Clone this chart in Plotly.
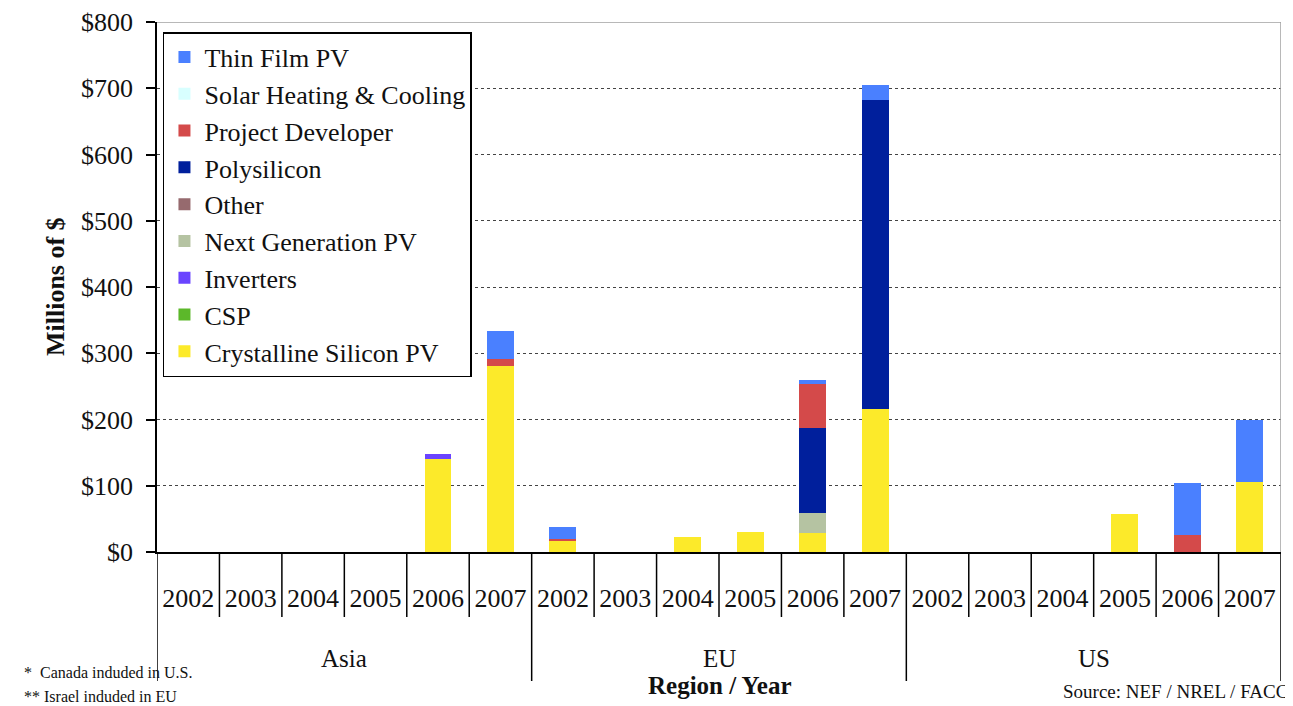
import plotly.graph_objects as go

# ---------------- data ----------------
regions = ["Asia", "EU", "US"]
years = ["2002", "2003", "2004", "2005", "2006", "2007"]
year_labels = years * 3

series_names = [
    "Crystalline Silicon PV", "CSP", "Inverters", "Next Generation PV", "Other",
    "Polysilicon", "Project Developer", "Solar Heating & Cooling", "Thin Film PV",
]
#                 ----------- Asia -----------   ------------ EU ------------   ------------ US ------------
crystalline_si = [0, 0, 0, 0, 140, 281,          17, 0, 22, 30, 28, 216,         0, 0, 0, 57, 0, 106]
csp            = [0, 0, 0, 0, 0, 0,              0, 0, 0, 0, 0, 0,               0, 0, 0, 0, 0, 0]
inverters      = [0, 0, 0, 0, 8, 0,              0, 0, 0, 0, 0, 0,               0, 0, 0, 0, 0, 0]
next_gen_pv    = [0, 0, 0, 0, 0, 0,              0, 0, 0, 0, 31, 0,              0, 0, 0, 0, 0, 0]
other          = [0, 0, 0, 0, 0, 0,              0, 0, 0, 0, 0, 0,               0, 0, 0, 0, 0, 0]
polysilicon    = [0, 0, 0, 0, 0, 0,              0, 0, 0, 0, 128, 467,           0, 0, 0, 0, 0, 0]
project_dev    = [0, 0, 0, 0, 0, 10,             2, 0, 0, 0, 66, 0,              0, 0, 0, 0, 26, 0]
solar_hc       = [0, 0, 0, 0, 0, 0,              0, 0, 0, 0, 0, 0,               0, 0, 0, 0, 0, 0]
thin_film_pv   = [0, 0, 0, 0, 0, 43,             19, 0, 0, 0, 6, 22,             0, 0, 0, 0, 78, 94]

series_values = [crystalline_si, csp, inverters, next_gen_pv, other,
                 polysilicon, project_dev, solar_hc, thin_film_pv]
series_colors = ["#fcea2a", "#5cb82a", "#6a44ff", "#b5c3a2", "#966a6e",
                 "#001f9c", "#d44a4a", "#d8ffff", "#4a80ff"]

y_ticks = [0, 100, 200, 300, 400, 500, 600, 700, 800]

FONT = "Liberation Serif"
TXT = "#111111"

x_pos = list(range(len(year_labels)))
n_cat = len(year_labels)
per_region = len(years)

fig = go.Figure()
for k, (name, vals, col) in enumerate(zip(series_names, series_values, series_colors)):
    fig.add_trace(go.Bar(
        x=x_pos, y=vals, name=name,
        legendrank=1000 - k,
        marker=dict(color=col, line=dict(width=0)),
        width=0.43,
    ))

# category boundary lines below the axis
shapes = []
for i in range(n_cat + 1):
    b = i - 0.5
    long_line = (i % per_region == 0)
    shapes.append(dict(type="line", xref="x", yref="paper", x0=b, x1=b,
                       y0=0, y1=-0.2434 if long_line else -0.1226,
                       line=dict(color="black", width=1.5)))
# plot frame (top/right, light gray)
shapes.append(dict(type="line", xref="x", yref="y", x0=-0.5, x1=n_cat - 0.5,
                   y0=y_ticks[-1], y1=y_ticks[-1], line=dict(color="#a0a0a0", width=1.5)))
shapes.append(dict(type="line", xref="x", yref="y", x0=n_cat - 0.5, x1=n_cat - 0.5,
                   y0=0, y1=y_ticks[-1], line=dict(color="#a0a0a0", width=1.5)))

annotations = []
for k, r in enumerate(regions):
    annotations.append(dict(text=r, xref="x", yref="paper",
                            x=k * per_region + (per_region - 1) / 2, y=-0.2000,
                            showarrow=False, yanchor="middle",
                            font=dict(family=FONT, size=25, color=TXT)))
annotations += [
    dict(text="<b>Region / Year</b>", xref="paper", yref="paper", x=0.501, y=-0.2510,
         showarrow=False, yanchor="middle", font=dict(family=FONT, size=25, color=TXT)),
    dict(text="<b>Millions of $</b>", xref="paper", yref="paper", x=-0.0907, y=0.5,
         textangle=-90, showarrow=False, xanchor="center", yanchor="middle",
         font=dict(family=FONT, size=26, color=TXT)),
    dict(text="*  Canada induded in U.S.", xref="paper", yref="paper", x=-0.1201, y=-0.2283,
         xanchor="left", yanchor="middle", showarrow=False,
         font=dict(family=FONT, size=16, color=TXT)),
    dict(text="** Israel induded in EU", xref="paper", yref="paper", x=-0.1201, y=-0.2720,
         xanchor="left", yanchor="middle", showarrow=False,
         font=dict(family=FONT, size=16, color=TXT)),
    dict(text="Source: NEF / NREL / FACC", xref="paper", yref="paper", x=1.008, y=-0.2640,
         xanchor="right", yanchor="middle", showarrow=False,
         font=dict(family=FONT, size=19, color=TXT)),
]

fig.update_layout(
    width=1285, height=698,
    margin=dict(l=149, r=12, t=14, b=154, autoexpand=False),
    paper_bgcolor="white", plot_bgcolor="white",
    barmode="stack",
    font=dict(family=FONT, color=TXT),
    showlegend=True,
    legend=dict(x=0.0053, y=0.981, xanchor="left", yanchor="top",
                bgcolor="white", bordercolor="black", borderwidth=1.5,
                traceorder="normal",
                font=dict(family=FONT, size=26, color=TXT),
                itemwidth=30),
    xaxis=dict(range=[-0.5, n_cat - 0.5], tickmode="array", tickvals=x_pos,
               ticktext=year_labels, ticks="", showgrid=False, zeroline=False,
               showline=True, linecolor="black", linewidth=1.5, automargin=False,
               tickfont=dict(family=FONT, size=26, color=TXT),
               ticklabelstandoff=22),
    yaxis=dict(range=[0, y_ticks[-1]], tickmode="array", tickvals=y_ticks,
               ticktext=[f"${v}" for v in y_ticks],
               ticks="outside", ticklen=9, tickwidth=1.5, tickcolor="black",
               showline=True, linecolor="black", linewidth=1.5, automargin=False,
               showgrid=True, gridcolor="#444444", griddash="dot", gridwidth=1.2,
               zeroline=False,
               tickfont=dict(family=FONT, size=26, color=TXT),
               ticklabelstandoff=8),
    shapes=shapes,
    annotations=annotations,
)

fig.write_html("out.html")
